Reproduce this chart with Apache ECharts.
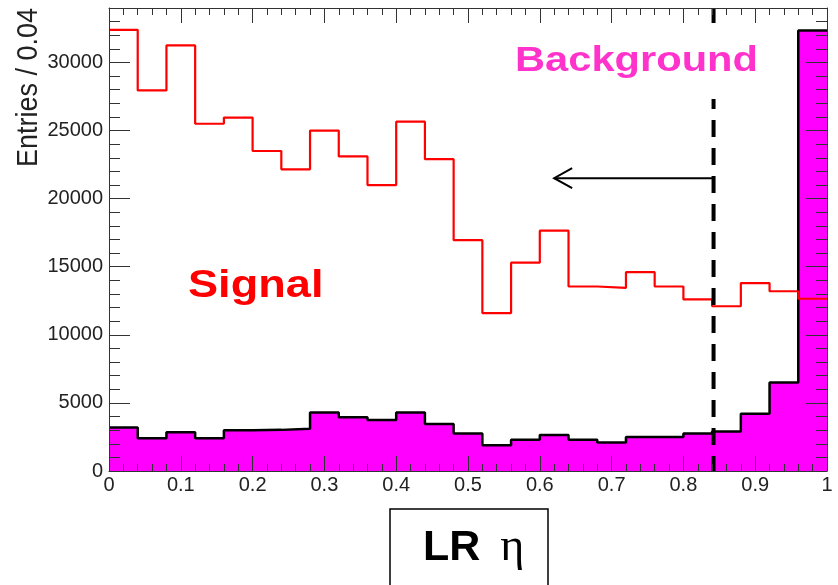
<!DOCTYPE html>
<html>
<head>
<meta charset="utf-8">
<script src="https://cdn.jsdelivr.net/npm/echarts@6/dist/echarts.min.js"></script>
<style>
  html, body { margin: 0; padding: 0; background: #fff; }
  #main { width: 838px; height: 585px; }
</style>
</head>
<body>
<div id="main"></div>
<script type="text/javascript">

    // LR eta histograms, 25 bins of width 0.04 from 0 to 1
    var binWidth = 0.04;
    var signalCounts = [32400, 27950, 31250, 25500, 25950, 23500, 22150, 25000, 23100, 21000,
        25650, 22900, 16950, 11600, 15300, 17650, 13550, 13450, 14600, 13550,
        12600, 12100, 13800, 13200, 12650];
    var backgroundCounts = [3200, 2400, 2850, 2400, 3000, 3020, 3100, 4300, 3950, 3750,
        4300, 3450, 2750, 1900, 2300, 2650, 2300, 2100, 2500, 2500,
        2750, 2900, 4200, 6500, 32350];

    // cut line and arrow
    var cutValue = 0.842;
    var arrowTo = 0.62;
    var arrowLevel = 21500;

    var yMax = 34000;
    var font = 'Liberation Sans, Arial, sans-serif';
    var axisColor = '#333';

    // step points at bin edges, last edge repeats the last value
    function toSteps(counts) {
        var pts = [];
        for (var i = 0; i < counts.length; i++) {
            pts.push([+(i * binWidth).toFixed(2), counts[i]]);
        }
        pts.push([1, counts[counts.length - 1]]);
        return pts;
    }

    function makeXAxis(pos, showLabel) {
        return {
            type: 'value', position: pos, min: 0, max: 1, interval: 0.1, z: 5,
            axisLine: {show: true, onZero: false, lineStyle: {color: axisColor, width: 1}},
            axisTick: {show: true, inside: true, length: 15, lineStyle: {color: axisColor}},
            minorTick: {show: true, splitNumber: 5, length: 7, lineStyle: {color: axisColor}},
            splitLine: {show: false},
            axisLabel: {
                show: showLabel, fontFamily: font, fontSize: 20, color: '#222', margin: 4,
                formatter: function (v) { return String(+v.toFixed(2)); }
            }
        };
    }

    function makeYAxis(pos, showLabel) {
        return {
            type: 'value', position: pos, min: 0, max: yMax, interval: 5000, z: 5,
            axisLine: {show: true, onZero: false, lineStyle: {color: axisColor, width: 1}},
            axisTick: {show: true, inside: true, length: 21, lineStyle: {color: axisColor}},
            minorTick: {show: true, splitNumber: 5, length: 11, lineStyle: {color: axisColor}},
            splitLine: {show: false},
            axisLabel: {
                show: showLabel, showMaxLabel: false, fontFamily: font, fontSize: 20, color: '#222', margin: 6,
                formatter: function (v) { return String(v); }
            }
        };
    }

    var chart = echarts.init(document.getElementById('main'));

    var option = {
        animation: false,
        backgroundColor: '#fff',
        grid: {left: 109, right: 11, top: 8, bottom: 114},
        xAxis: [makeXAxis('bottom', true), makeXAxis('top', false)],
        yAxis: [makeYAxis('left', true), makeYAxis('right', false)],
        series: [
            {
                name: 'Background', type: 'line', step: 'end', symbol: 'none', z: 2,
                data: toSteps(backgroundCounts),
                lineStyle: {color: '#000', width: 2.5},
                areaStyle: {color: '#ff00ff', opacity: 1}
            },
            {
                name: 'Signal', type: 'line', step: 'end', symbol: 'none', z: 3,
                data: toSteps(signalCounts),
                lineStyle: {color: '#ff0000', width: 2.2}
            },
            {
                name: 'cut', type: 'line', symbol: 'none', z: 4,
                data: [[cutValue, yMax], [cutValue, 0]],
                lineStyle: {color: '#000', width: 4, type: [17, 11]}
            },
            {
                name: 'arrow', type: 'custom', z: 4,
                data: [[cutValue, arrowLevel, arrowTo]],
                renderItem: function (params, api) {
                    var a = api.coord([api.value(0), api.value(1)]);
                    var b = api.coord([api.value(2), api.value(1)]);
                    var st = {stroke: '#000', lineWidth: 2, fill: null};
                    return {
                        type: 'group',
                        children: [
                            {type: 'line', shape: {x1: a[0], y1: a[1], x2: b[0], y2: b[1]}, style: st},
                            {type: 'polyline', shape: {points: [[b[0] + 18, b[1] - 10], [b[0], b[1]], [b[0] + 18, b[1] + 10]]}, style: st}
                        ]
                    };
                }
            }
        ],
        graphic: [
            // white box behind the Background label (covers the cut line there)
            {type: 'rect', z: 20, shape: {x: 505, y: 23, width: 265, height: 76}, style: {fill: '#fff'}},
            {
                type: 'text', z: 21, x: 515, y: 61, scaleX: 1.19,
                style: {text: 'Background', font: 'bold 35px ' + font, fill: '#ff33cc', verticalAlign: 'middle'}
            },
            {
                type: 'text', z: 21, x: 188, y: 286, scaleX: 1.22, scaleY: 1.05,
                style: {text: 'Signal', font: 'bold 37px ' + font, fill: '#ff0000', verticalAlign: 'middle'}
            },
            {
                type: 'text', z: 21, x: 14, y: 8, rotation: Math.PI / 2, scaleY: 1.1,
                style: {text: 'Entries / 0.04', font: '27px ' + font, fill: '#222', align: 'right', verticalAlign: 'top'}
            },
            {type: 'rect', z: 20, shape: {x: 390, y: 509, width: 158, height: 100}, style: {fill: '#fff', stroke: '#000', lineWidth: 1.5}},
            {
                type: 'text', z: 21, x: 423, y: 548,
                style: {
                    text: '{b|LR}{e|η}', verticalAlign: 'middle',
                    rich: {
                        b: {font: 'bold 43px ' + font, fill: '#000'},
                        e: {font: '46px Liberation Serif, DejaVu Serif, serif', fill: '#000', padding: [0, 0, 0, 20]}
                    }
                }
            }
        ]
    };

    chart.setOption(option);
</script>
</body>
</html>
